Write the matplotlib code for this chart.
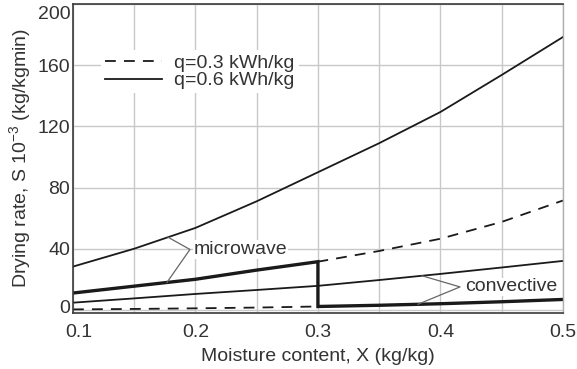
import matplotlib
matplotlib.use('Agg')
import matplotlib.pyplot as plt
import matplotlib.transforms as mtransforms
from matplotlib.lines import Line2D
import numpy as np

plt.rcParams['font.family'] = ['Liberation Sans', 'DejaVu Sans']
plt.rcParams['mathtext.fontset'] = 'custom'
plt.rcParams['mathtext.rm'] = 'Liberation Sans'
plt.rcParams['mathtext.default'] = 'regular'

# moisture content X (kg/kg)
X = [0.10, 0.15, 0.20, 0.25, 0.30, 0.35, 0.40, 0.45, 0.50]

# drying rate S*10^3 (kg/kg min)
mw_q06 = [28.3, 40.0, 53.6, 71.0, 90.0, 109.0, 129.4, 153.6, 178.4]   # microwave, q=0.6
mw_q03 = [11.0, 15.5, 20.0, 26.0, 31.5, 38.5, 46.5, 57.5, 71.5]       # microwave, q=0.3
cv_q06 = [4.7, 7.5, 10.4, 13.0, 15.7, 19.5, 23.5, 27.7, 32.0]         # convective, q=0.6
cv_q03 = [0.3, 0.6, 1.0, 1.5, 2.2, 3.0, 4.0, 5.3, 6.8]                # convective, q=0.3

X_switch = 0.30   # microwave -> convective

xticks = [0.1, 0.2, 0.3, 0.4, 0.5]
yticks = [0, 40, 80, 120, 160, 200]

ink = '#1a1a1a'
txt = '#333333'
grid = '#c8c8c8'
fs = 14

fig = plt.figure(figsize=(5.77, 3.69), dpi=100)
ax = fig.add_axes([0.1265, 0.152, 0.849, 0.837])

ax.plot(X, mw_q06, color=ink, lw=1.3)
ax.plot(X, cv_q06, color=ink, lw=1.3)
ax.plot(X, mw_q03, color=ink, lw=1.3, dashes=(6, 4.5))
ax.plot(X, cv_q03, color=ink, lw=1.3, dashes=(6, 4.5))

# combined strategy: microwave up to X_switch, then convective
x_arr = np.array(X)
lo = x_arr <= X_switch
hi = x_arr >= X_switch
comb_x = np.concatenate([x_arr[lo], x_arr[hi]])
comb_y = np.concatenate([np.array(mw_q03)[lo], np.array(cv_q03)[hi]])
ax.plot(comb_x, comb_y, color=ink, lw=2.4, solid_joinstyle='miter')

ax.set_xlim(0.1, 0.5)
ax.set_ylim(-2, 200)
ax.set_xticks(xticks)
ax.set_xticklabels(['0.1', '0.2', '0.3', '0.4', '0.5'])
ax.set_yticks(yticks)
ax.set_xticks(np.arange(0.15, 0.5, 0.05), minor=True)
ax.tick_params(which='both', length=0, labelsize=fs, colors=txt)
ax.tick_params(axis='x', pad=8)
ax.tick_params(axis='y', pad=2)
ax.grid(True, which='both', color=grid, lw=1.0)
ax.set_axisbelow(True)

# keep the end labels inside the frame
ylabs = ax.get_yticklabels()
ylabs[-1].set_transform(ylabs[-1].get_transform() +
                        mtransforms.ScaledTranslation(0, -8 / 100, fig.dpi_scale_trans))
ylabs[0].set_transform(ylabs[0].get_transform() +
                       mtransforms.ScaledTranslation(0, 3 / 100, fig.dpi_scale_trans))
xlabs = ax.get_xticklabels()
xlabs[0].set_transform(xlabs[0].get_transform() +
                       mtransforms.ScaledTranslation(6 / 100, 0, fig.dpi_scale_trans))

for side in ['left', 'bottom', 'top']:
    ax.spines[side].set_color('#3a3a3a')
    ax.spines[side].set_linewidth(1.2)
ax.spines['right'].set_color('#b0b0b0')
ax.spines['right'].set_linewidth(1.0)

ax.set_xlabel('Moisture content, X (kg/kg)', fontsize=fs, color=txt, labelpad=5)
ax.set_ylabel('Drying rate, S 10$^{-3}$ (kg/kgmin)', fontsize=fs, color=txt, labelpad=3)

handles = [Line2D([], [], color=ink, lw=1.3, dashes=(6, 4.5)),
           Line2D([], [], color=ink, lw=1.3)]
leg = ax.legend(handles, ['q=0.3 kWh/kg', 'q=0.6 kWh/kg'], loc='upper left',
                bbox_to_anchor=(0.058, 0.85), frameon=True, fancybox=False,
                edgecolor='none', facecolor='white', framealpha=1,
                fontsize=fs, handlelength=2.9, handletextpad=0.65,
                labelspacing=0.0, borderpad=0.2, borderaxespad=0)
for t in leg.get_texts():
    t.set_color(txt)

# bracket labels pointing at curve pairs
def bracket(label, tip, x_up, y_up_curve, x_dn, y_dn_curve, text_x):
    y_up = np.interp(x_up, X, y_up_curve)
    y_dn = np.interp(x_dn, X, y_dn_curve)
    ax.plot([x_up, tip[0], x_dn], [y_up, tip[1], y_dn], color='#666666', lw=0.9)
    ax.text(text_x, tip[1], label, fontsize=fs, color=txt, va='center', ha='left',
            bbox=dict(facecolor='white', edgecolor='none', pad=0.5))

bracket('microwave', (0.1955, 39.5), 0.1776, mw_q06, 0.1767, mw_q03, 0.1985)
bracket('convective', (0.416, 15.0), 0.385, cv_q06, 0.3816, cv_q03, 0.4205)

fig.savefig('out.png', dpi=100)
